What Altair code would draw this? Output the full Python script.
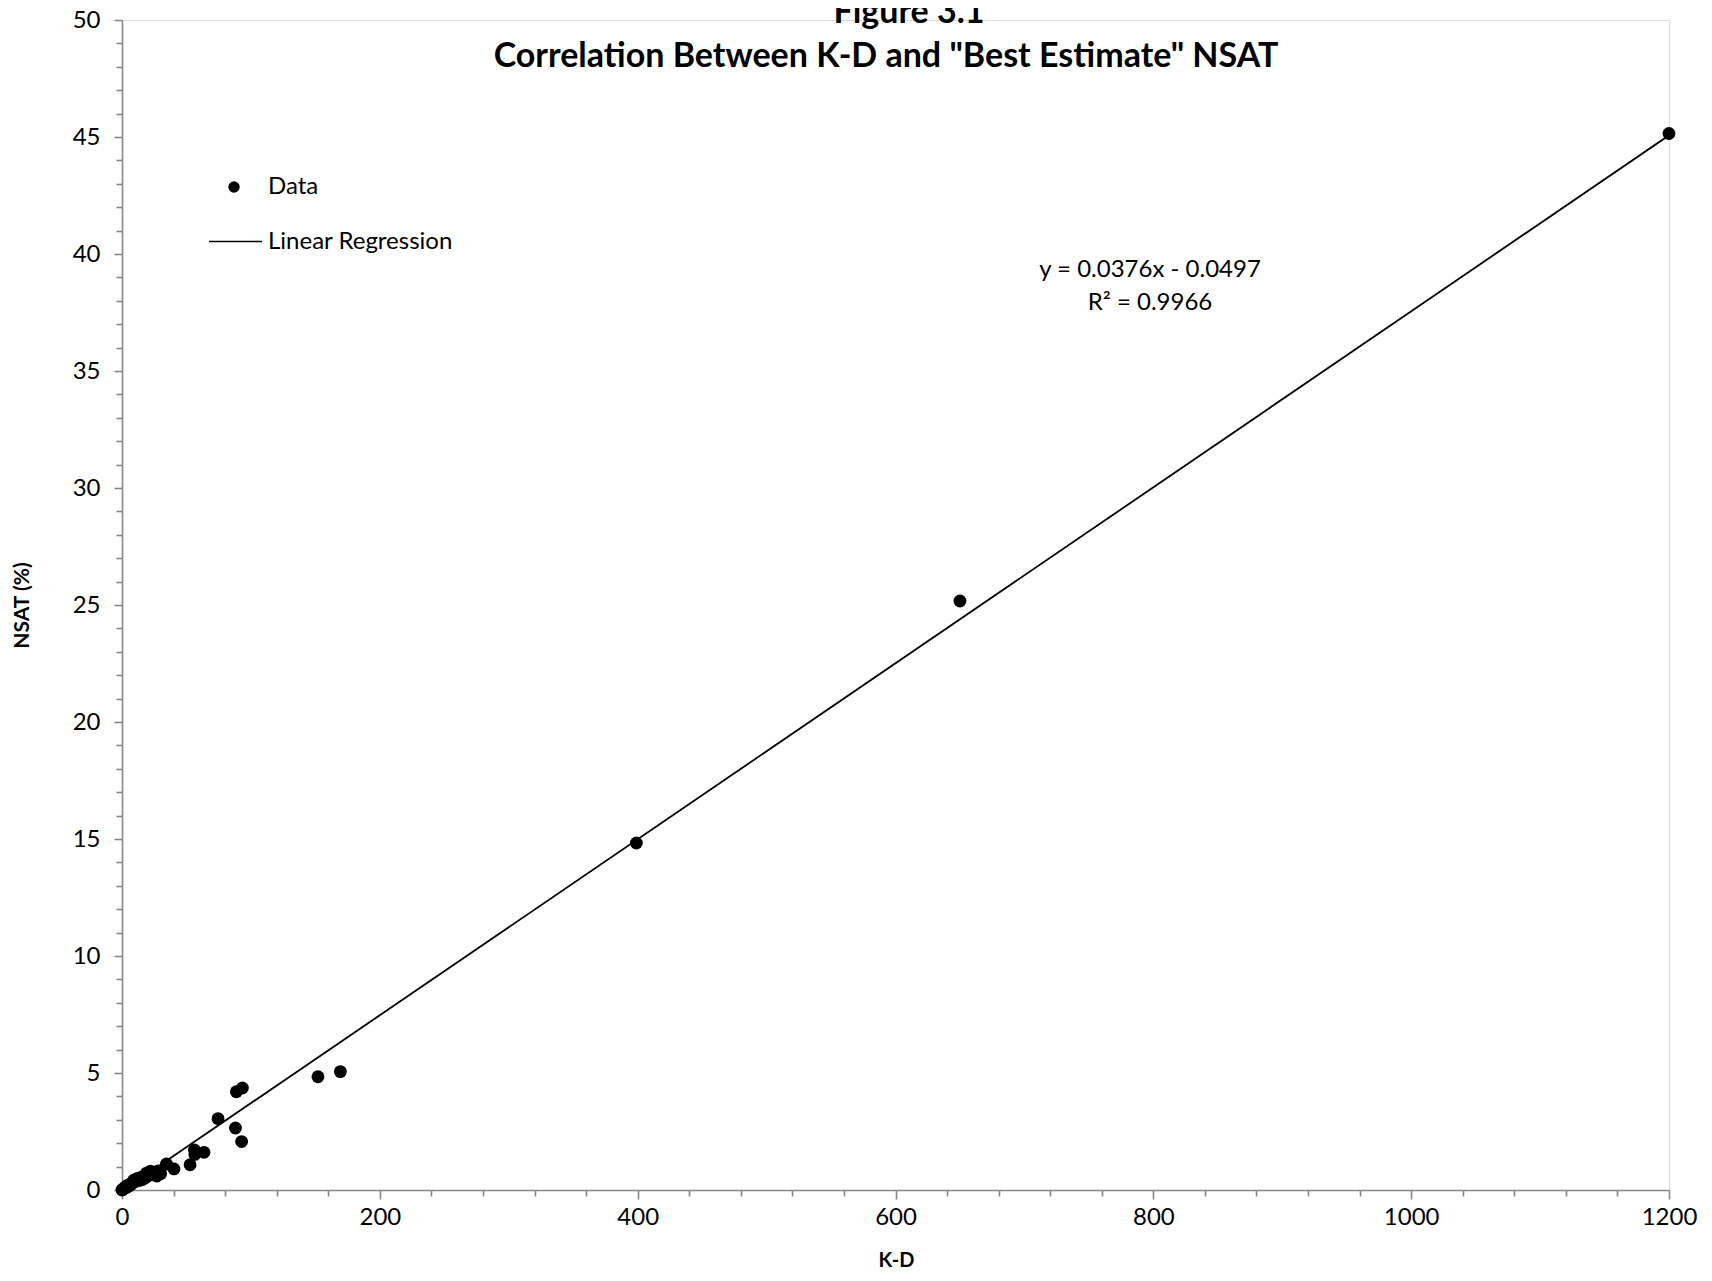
import altair as alt
import pandas as pd

# ---- data ----
kd_values = [0, 0.3, 0.8, 1.5, 2, 3, 4, 5, 6.5, 8, 9, 10, 12, 13, 15, 16, 18, 19, 20, 22, 24, 25, 27, 28, 30,
             34.5, 40.3, 52.8, 56.2, 56.5, 63.6, 74.5, 88.0, 88.7, 92.8, 93.4, 152.0, 169.4, 399.0, 650.0, 1200.0]
nsat_values = [0.0, 0.01, 0.03, 0.05, 0.1, 0.15, 0.12, 0.22, 0.2, 0.3, 0.42, 0.35, 0.5, 0.4, 0.55, 0.45, 0.52, 0.72, 0.6, 0.8, 0.65, 0.75, 0.6, 0.82, 0.7,
               1.11, 0.9, 1.08, 1.71, 1.52, 1.61, 3.05, 2.65, 4.2, 2.07, 4.36, 4.84, 5.06, 14.83, 25.17, 45.15]

fit_x = [0, 1200]
fit_y = [-0.0497, 45.0703]

x_ticks = list(range(0, 1201, 40))
y_ticks = list(range(0, 51, 1))

title_lines = ["Figure 3.1", "Correlation Between K-D and \"Best Estimate\" NSAT"]
equation_lines = ["y = 0.0376x - 0.0497", "R\u00b2 = 0.9966"]
legend_labels = ["Data", "Linear Regression"]

FONT = "Lato"
W, H = 1547, 1170
AXIS_GRAY = "#878787"

pts = pd.DataFrame({"kd": kd_values, "nsat": nsat_values})
fit = pd.DataFrame({"kd": fit_x, "nsat": fit_y})

xscale = alt.Scale(domain=[0, 1200], nice=False, zero=False)
yscale = alt.Scale(domain=[0, 50], nice=False, zero=False)

xaxis = alt.Axis(
    values=x_ticks, format="d",
    labelExpr="datum.value % 200 === 0 ? datum.label : ''",
    tickSize={"condition": {"test": "datum.value % 200 === 0", "value": 9}, "value": 6},
    labelFontSize={"condition": {"test": "datum.value % 200 === 0", "value": 24}, "value": 1},
    labelOverlap=False,
    grid=False,
    domainColor=AXIS_GRAY, domainWidth=1.6,
    tickColor=AXIS_GRAY, tickWidth=1.6,
    labelFont=FONT, labelColor="black", labelPadding=6,
    labelFlush=False,
    title="K-D", titleFont=FONT, titleFontSize=20, titleFontWeight="bold", titleColor="black",
    titleX=774, titleY=70, titleAlign="center", titleBaseline="middle",
)
yaxis = alt.Axis(
    values=y_ticks, format="d",
    labelExpr="datum.value % 5 === 0 ? datum.label : ''",
    tickSize={"condition": {"test": "datum.value % 5 === 0", "value": 8}, "value": 6},
    labelFontSize={"condition": {"test": "datum.value % 5 === 0", "value": 24}, "value": 1},
    labelOverlap=False,
    grid=False,
    domainColor=AXIS_GRAY, domainWidth=1.6,
    tickColor=AXIS_GRAY, tickWidth=1.6,
    labelFont=FONT, labelColor="black", labelPadding=14,
    labelFlush=False,
    title="NSAT (%)", titleFont=FONT, titleFontSize=21, titleFontWeight="bold", titleColor="black",
    titleX=-100, titleY=585, titleAngle=-90, titleAlign="center", titleBaseline="middle",
)

line = alt.Chart(fit).mark_line(color="black", strokeWidth=1.8, clip=True).encode(
    x=alt.X("kd:Q", scale=xscale, axis=xaxis),
    y=alt.Y("nsat:Q", scale=yscale, axis=yaxis),
)
points = alt.Chart(pts).mark_circle(color="black", opacity=1, size=165).encode(
    x=alt.X("kd:Q", scale=xscale, axis=xaxis),
    y=alt.Y("nsat:Q", scale=yscale, axis=yaxis),
)

# legend (drawn manually, as in the reference)
leg_df = pd.DataFrame({"label": legend_labels, "row": [0, 1]})
leg_dot = alt.Chart(leg_df).transform_filter("datum.row === 0").mark_circle(color="black", opacity=1, size=130).encode(
    x=alt.value(112), y=alt.value(167))
leg_line = alt.Chart(leg_df).transform_filter("datum.row === 1").mark_rule(color="black", strokeWidth=1.6).encode(
    x=alt.value(87), x2=alt.value(140), y=alt.value(221.5))
leg_text0 = alt.Chart(leg_df).transform_filter("datum.row === 0").mark_text(
    align="left", baseline="middle", font=FONT, fontSize=24, color="black").encode(
    x=alt.value(146), y=alt.value(167), text="label:N")
leg_text1 = alt.Chart(leg_df).transform_filter("datum.row === 1").mark_text(
    align="left", baseline="middle", font=FONT, fontSize=24, color="black").encode(
    x=alt.value(146), y=alt.value(221.5), text="label:N")

eq_df = pd.DataFrame({"t": equation_lines, "row": [0, 1]})
eq0 = alt.Chart(eq_df).transform_filter("datum.row === 0").mark_text(
    align="center", baseline="middle", font=FONT, fontSize=24, color="black").encode(
    x=alt.value(1028), y=alt.value(250), text="t:N")
eq1 = alt.Chart(eq_df).transform_filter("datum.row === 1").mark_text(
    align="center", baseline="middle", font=FONT, fontSize=24, color="black").encode(
    x=alt.value(1028), y=alt.value(283), text="t:N")

ti_df = pd.DataFrame({"t": title_lines, "row": [0, 1]})
ti0 = alt.Chart(ti_df).transform_filter("datum.row === 0").mark_text(
    align="center", baseline="alphabetic", font=FONT, fontSize=34, fontWeight="bold", color="black").encode(
    x=alt.value(787), y=alt.value(3), text="t:N")
ti1 = alt.Chart(ti_df).transform_filter("datum.row === 1").mark_text(
    align="center", baseline="alphabetic", font=FONT, fontSize=34, fontWeight="bold", color="black").encode(
    x=alt.value(764), y=alt.value(47), text="t:N")

chart = alt.layer(line, points, leg_dot, leg_line, leg_text0, leg_text1, eq0, eq1, ti0, ti1).properties(
    width=W, height=H,
    autosize=alt.AutoSizeParams(type="none"),
    padding={"left": 114, "top": 12, "right": 30, "bottom": 82},
).configure_view(stroke=None).configure(background="white")

chart.save("out.html", embed_options={"renderer": "svg", "actions": False})
